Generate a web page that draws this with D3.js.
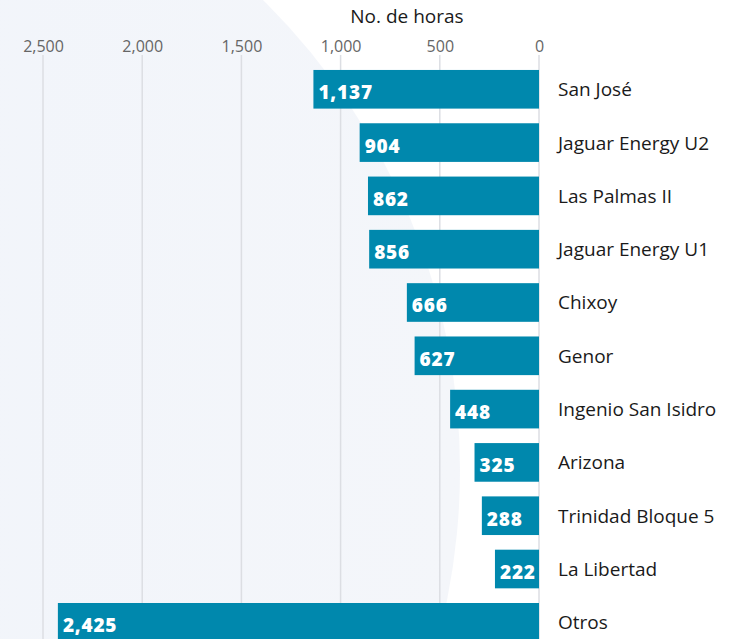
<!DOCTYPE html>
<html>
<head>
<meta charset="utf-8">
<script src="https://cdn.jsdelivr.net/npm/d3@7"></script>
<style>
  html, body { margin: 0; padding: 0; background: #fff; }
  svg { display: block; font-family: "Open Sans", "Noto Sans", sans-serif; }
</style>
</head>
<body>
<div id="chart"></div>
<script>
// categories, top to bottom
const plantas = ['San José', 'Jaguar Energy U2', 'Las Palmas II', 'Jaguar Energy U1', 'Chixoy', 'Genor',
  'Ingenio San Isidro', 'Arizona', 'Trinidad Bloque 5', 'La Libertad', 'Otros'];
// no. de horas
const horas = [1137, 904, 862, 856, 666, 627, 448, 325, 288, 222, 2425];
const xTicks = [0, 500, 1000, 1500, 2000, 2500];
const axisTitle = 'No. de horas';

const W = 740, H = 639;
const data = plantas.map((p, i) => ({ planta: p, horas: horas[i] }));

const svg = d3.select('#chart').append('svg').attr('width', W).attr('height', H);

// soft background shape
const defs = svg.append('defs');
const grad = defs.append('linearGradient').attr('id', 'bgGrad').attr('x1', 0).attr('x2', 1).attr('y1', 0).attr('y2', 0);
grad.append('stop').attr('offset', '0%').attr('stop-color', '#eef3fb');
grad.append('stop').attr('offset', '100%').attr('stop-color', '#f4f6fa');
svg.append('circle').attr('cx', -199).attr('cy', 470).attr('r', 659).attr('fill', 'url(#bgGrad)');

// scales (reversed: zero on the right)
const x = d3.scaleLinear().domain([0, 2500]).range([539, 43]);
const y = d3.scaleBand().domain(plantas).range([55.3, 656.3]).padding(0.275);

// gridlines
svg.append('g').selectAll('line').data(xTicks).join('line')
  .attr('x1', d => x(d)).attr('x2', d => x(d))
  .attr('y1', 55).attr('y2', H)
  .attr('stroke', '#dcdee3').attr('stroke-width', 1.5);

// top axis labels
const axis = svg.append('g').attr('transform', 'translate(0,52)')
  .call(d3.axisTop(x).tickValues(xTicks).tickFormat(d3.format(',')).tickSize(0).tickPadding(0));
axis.select('.domain').remove();
axis.selectAll('text')
  .attr('font-size', 16).attr('fill', '#666').attr('font-weight', 400)
  .attr('font-family', '"Open Sans", sans-serif');

svg.append('text').attr('x', 407).attr('y', 23).attr('text-anchor', 'middle')
  .attr('font-size', 19).attr('fill', '#1a1a1a').text(axisTitle);

// bars
svg.append('g').selectAll('rect').data(data).join('rect')
  .attr('x', d => x(d.horas)).attr('y', d => y(d.planta))
  .attr('width', d => x(0) - x(d.horas)).attr('height', y.bandwidth())
  .attr('fill', '#0088ad');

// value labels
svg.append('g').selectAll('text').data(data).join('text')
  .attr('x', d => x(d.horas) + 5)
  .attr('y', d => y(d.planta) + y.bandwidth() / 2 + 10)
  .attr('font-size', 19).attr('font-weight', 800).attr('fill', '#fff')
  .attr('letter-spacing', 0.8)
  .text(d => d3.format(',')(d.horas));

// category labels
svg.append('g').selectAll('text').data(data).join('text')
  .attr('x', 558)
  .attr('y', d => y(d.planta) + y.bandwidth() / 2 + 7)
  .attr('font-size', 19).attr('fill', '#1a1a1a')
  .text(d => d.planta);
</script>
</body>
</html>
